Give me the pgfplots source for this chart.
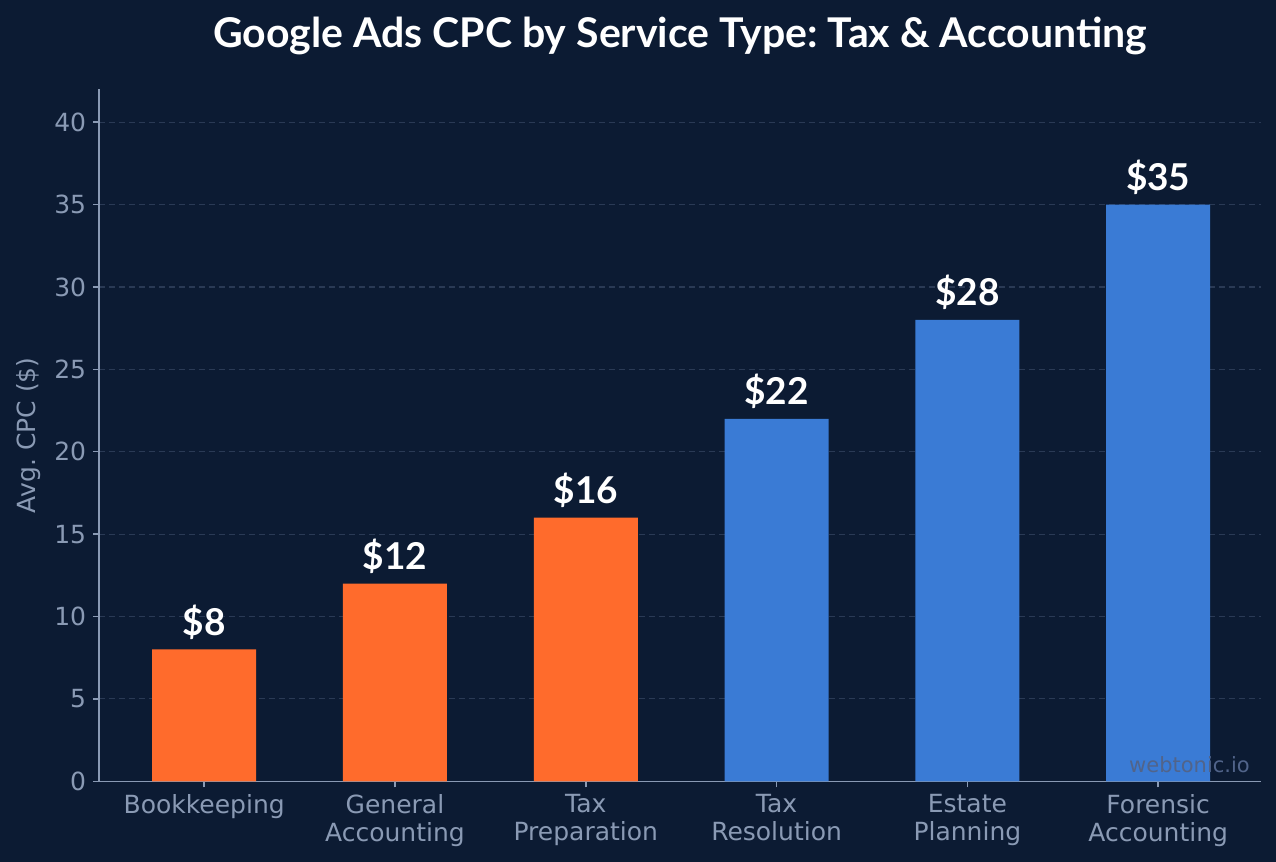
\documentclass[border=0pt]{standalone}
\usepackage{fontspec}
\setmainfont{DejaVu Sans}
\newfontfamily\lato{Lato}
\usepackage{pgfplots}
\pgfplotsset{compat=1.18}
\definecolor{bg}{HTML}{0C1B33}
\definecolor{axisc}{HTML}{8A9AB4}
\definecolor{gridc}{HTML}{2A3A55}
\definecolor{orangec}{HTML}{FF6B2C}
\definecolor{bluec}{HTML}{3A7BD5}
\definecolor{wm}{HTML}{51648A}
\begin{document}
\frenchspacing
\begin{tikzpicture}[x=1pt,y=1pt]
\fill[bg] (0,0) rectangle (638,431);
\useasboundingbox (0,0) rectangle (638,431);
\node[font=\lato\bfseries\fontsize{20.5}{24}\selectfont, text=white] at (340,413) {Google Ads CPC by Service Type: Tax \& Accounting};
\begin{axis}[at={(52,49)}, anchor=south west, scale only axis,
  width=581pt, height=346pt,
  xmin=-0.55, xmax=5.54, ymin=0, ymax=42,
  clip=false,
  axis lines=left,
  axis line style={-, axisc, line width=0.75pt},
  ybar, bar width=0.545, bar shift=0pt,
  xtick={0,1,2,3,4,5},
  xticklabels={Bookkeeping, General\\Accounting, Tax\\Preparation, Tax\\Resolution, Estate\\Planning, Forensic\\Accounting},
  xticklabel style={align=center, text=axisc, font=\fontsize{12.5}{14}\selectfont},
  ytick={0,5,...,40},
  yticklabel style={text=axisc, font=\fontsize{12.5}{14}\selectfont},
  /pgf/number format/assume math mode=true,
  tick style={axisc, line width=0.75pt},
  tick align=outside, major tick length=3pt,
  ymajorgrids, grid style={gridc, line width=0.6pt, dash pattern=on 3pt off 2pt},
  ylabel={Avg.\ CPC (\$)},
  ylabel style={text=axisc, font=\fontsize{12.5}{14}\selectfont},
  nodes near coords={\$\pgfmathprintnumber{\pgfplotspointmeta}},
  every node near coord/.append style={anchor=base, yshift=7pt, text=white, font=\lato\bfseries\fontsize{18.5}{21}\selectfont},
]
\addplot[fill=orangec, draw=none] coordinates {(0,8) (1,12) (2,16)};
\addplot[fill=bluec, draw=none] coordinates {(3,22) (4,28) (5,35)};
\node[anchor=east, inner sep=0pt, text=wm, font=\fontsize{10.5}{12}\selectfont] at (rel axis cs:0.9905,0.0246) {webtonic.io};
\end{axis}
\end{tikzpicture}
\end{document}
